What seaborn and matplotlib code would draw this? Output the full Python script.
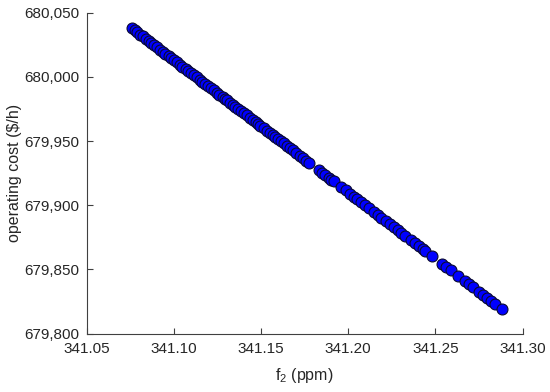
import matplotlib
matplotlib.use("Agg")
import matplotlib.pyplot as plt
import matplotlib.ticker as mticker
import seaborn as sns
import pandas as pd

f2_ppm = [
    341.0759, 341.0776, 341.0791, 341.0808, 341.0822, 341.0840, 341.0857, 341.0871,
    341.0889, 341.0905, 341.0921, 341.0938, 341.0952, 341.0970, 341.0987, 341.1001,
    341.1019, 341.1034, 341.1050, 341.1068, 341.1083, 341.1099, 341.1116, 341.1131,
    341.1149, 341.1164, 341.1180, 341.1198, 341.1213, 341.1230, 341.1247, 341.1262,
    341.1280, 341.1293, 341.1305, 341.1322, 341.1338, 341.1353, 341.1370, 341.1386,
    341.1401, 341.1419, 341.1436, 341.1452, 341.1470, 341.1484, 341.1496, 341.1515,
    341.1534, 341.1550, 341.1566, 341.1579, 341.1597, 341.1614, 341.1630, 341.1648,
    341.1665, 341.1682, 341.1703, 341.1725, 341.1742, 341.1760, 341.1777, 341.1834,
    341.1852, 341.1868, 341.1888, 341.1903, 341.1917, 341.1960, 341.1985, 341.2012,
    341.2031, 341.2050, 341.2075, 341.2098, 341.2120, 341.2146, 341.2168, 341.2189,
    341.2215, 341.2241, 341.2262, 341.2285, 341.2305, 341.2327, 341.2361, 341.2383,
    341.2404, 341.2428, 341.2442, 341.2480, 341.2537, 341.2560, 341.2587, 341.2629,
    341.2667, 341.2690, 341.2715, 341.2750, 341.2772, 341.2795, 341.2820, 341.2843,
    341.2881,
]

operating_cost = [
    680038.0, 680036.2, 680034.7, 680032.9, 680031.5, 680029.6, 680027.9, 680026.4,
    680024.6, 680022.9, 680021.3, 680019.5, 680018.1, 680016.2, 680014.5, 680013.0,
    680011.2, 680009.6, 680008.0, 680006.1, 680004.6, 680002.9, 680001.2, 679999.6,
    679997.8, 679996.2, 679994.6, 679992.7, 679991.2, 679989.4, 679987.6, 679986.1,
    679984.2, 679982.9, 679981.7, 679979.9, 679978.3, 679976.7, 679974.9, 679973.3,
    679971.7, 679969.9, 679968.1, 679966.5, 679964.6, 679963.2, 679961.9, 679960.0,
    679958.0, 679956.4, 679954.7, 679953.4, 679951.5, 679949.8, 679948.1, 679946.3,
    679944.5, 679942.8, 679940.6, 679938.3, 679936.6, 679934.7, 679932.9, 679927.1,
    679925.2, 679923.6, 679921.5, 679919.9, 679918.5, 679914.1, 679911.5, 679908.7,
    679906.7, 679904.8, 679902.2, 679899.8, 679897.5, 679894.9, 679892.6, 679890.4,
    679887.7, 679885.1, 679882.9, 679880.5, 679878.5, 679876.2, 679872.7, 679870.4,
    679868.2, 679865.8, 679864.3, 679860.4, 679854.5, 679852.1, 679849.4, 679845.0,
    679841.1, 679838.7, 679836.1, 679832.5, 679830.3, 679827.9, 679825.3, 679822.9,
    679819.0,
]

x_ticks = [341.05, 341.10, 341.15, 341.20, 341.25, 341.30]
y_ticks = [679800, 679850, 679900, 679950, 680000, 680050]
x_label = "f$_2$ (ppm)"
y_label = "operating cost ($/h)"

sns.set_style("ticks")
plt.rcParams["font.family"] = ["Liberation Sans", "DejaVu Sans"]
plt.rcParams["mathtext.default"] = "regular"
plt.rcParams["xtick.direction"] = "in"
plt.rcParams["ytick.direction"] = "in"

df = pd.DataFrame({"f2": f2_ppm, "cost": operating_cost})

fig = plt.figure(figsize=(5.5, 3.92), dpi=100)
ax = fig.add_axes([0.1573, 0.1492, 0.7931, 0.8184])

sns.scatterplot(data=df, x="f2", y="cost", ax=ax, s=62, color="#0000FF",
                edgecolor="#0a0a30", linewidth=0.8, alpha=1.0, zorder=3)

ax.set_xlim(341.05, 341.30)
ax.set_ylim(679800, 680050)
ax.set_xticks(x_ticks)
ax.set_yticks(y_ticks)
ax.xaxis.set_major_formatter(mticker.FormatStrFormatter("%.2f"))
ax.yaxis.set_major_formatter(mticker.FuncFormatter(lambda v, p: f"{int(round(v)):,}"))

txt_color = "#262626"
ax.tick_params(axis="both", labelsize=11, colors="#404040", labelcolor=txt_color,
               length=4, width=0.8)
ax.tick_params(axis="x", pad=6)
ax.tick_params(axis="y", pad=5)
for side in ["top", "right"]:
    ax.spines[side].set_visible(False)
for side in ["left", "bottom"]:
    ax.spines[side].set_color("#404040")
    ax.spines[side].set_linewidth(0.8)

ax.set_xlabel(x_label, fontsize=11.5, color=txt_color, labelpad=7)
ax.set_ylabel(y_label, fontsize=11.5, color=txt_color, labelpad=2)

fig.savefig("out.png", dpi=100)
